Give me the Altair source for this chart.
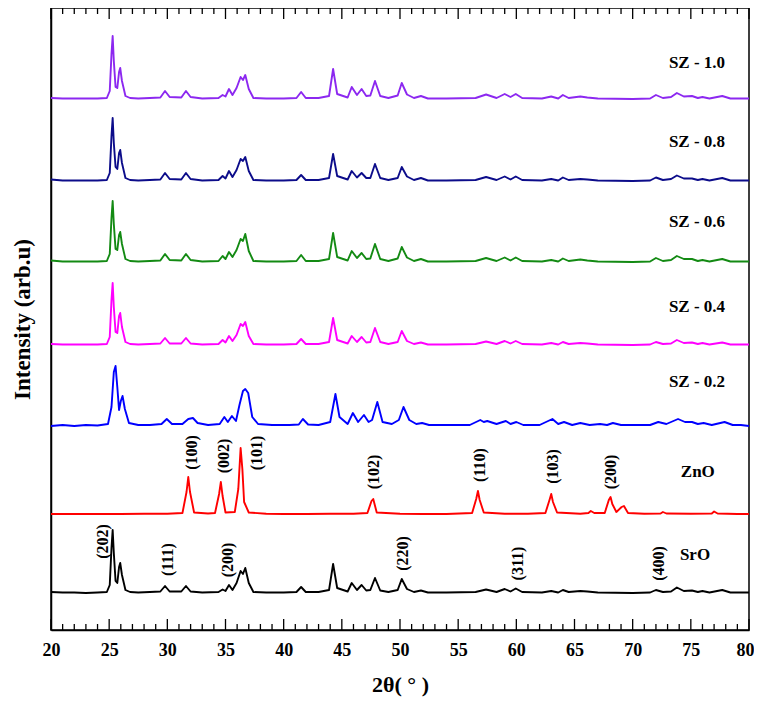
import altair as alt
import pandas as pd

# ---------------- data ----------------
NAMES = ["SrO", "ZnO", "SZ - 0.2", "SZ - 0.4", "SZ - 0.6", "SZ - 0.8", "SZ - 1.0"]
COLORS = ["#000000", "#ff0000", "#0000ff", "#ff00ff", "#138a13", "#0c0c8a", "#8c28f0"]
OFFSETS = [37, 116, 203, 285, 368, 449, 531]   # vertical stacking offsets (arb. units)

# common 2-theta grid for SrO and SZ-0.4 ... SZ-1.0
G = [20.0, 21.0, 22.0, 23.0, 24.0, 24.8, 25.05, 25.2, 25.3, 25.4, 25.55, 25.7, 25.85, 25.95, 26.1,
     26.4, 26.8, 27.5, 28.5, 29.4, 29.8, 30.2, 31.2, 31.6, 32.0, 33.0, 34.4, 34.75, 35.0, 35.3,
     35.6, 35.95, 36.3, 36.5, 36.7, 37.0, 37.4, 38.5, 40.0, 41.1, 41.5, 41.9, 43.0, 43.9, 44.25,
     44.6, 45.5, 45.85, 46.3, 46.7, 47.1, 47.45, 47.85, 48.3, 49.0, 49.8, 50.15, 50.6, 51.2, 51.8,
     52.4, 54.0, 56.5, 57.4, 58.3, 59.0, 59.5, 59.95, 60.5, 62.2, 63.0, 63.6, 64.0, 64.5, 65.5,
     66.1, 67.0, 70.0, 71.5, 72.0, 72.6, 73.3, 73.8, 74.4, 75.1, 75.6, 76.0, 76.6, 77.7, 78.4, 80.0]

SRO_Y = [1, 0.5, 0.5, 0, 0.5, 1, 8, 45, 63, 40, 12, 10, 26, 30, 18, 3, 1, 0.5, 1, 1.5,
         7, 1.5, 1.5, 7, 1.5, 0.5, 1, 3.5, 2, 8, 3, 10, 22, 19, 25, 10, 1, 0.5, 0.5, 1,
         6, 1, 1, 3, 29, 5, 1.5, 10, 3, 8, 2.5, 3, 15, 2.5, 1, 3, 14, 4, 1, 2.5,
         0.5, 0.5, 1, 3.5, 1, 4, 1.5, 4.5, 1, 0.5, 2, 0.5, 3, 1, 2, 1.5, 0.5, 0, 0.5, 3,
         1, 1.5, 5.5, 2, 2.5, 1, 2, 0.5, 3, 0.5, 0.5]
SZ04_Y = [1, 0.5, 0.5, 0.5, 0.5, 1, 8, 45, 62, 38, 13, 12, 29, 32, 18, 3, 1, 0.5, 1, 1.5,
          7, 1.5, 1.5, 7, 1.5, 0.5, 1, 5, 2.5, 9, 4, 10, 21, 19, 23, 9, 1, 0.5, 0.5, 1,
          6, 1, 1, 3, 27, 5, 1.5, 9, 3, 8, 2.5, 3, 17, 3, 1, 3, 14, 4, 1, 2.5,
          0.5, 0.5, 1, 3.5, 1, 4, 1.5, 4, 1, 0.5, 2, 0.5, 3, 1, 2, 1.5, 0.5, 0, 0.5, 3,
          1, 1.5, 5, 2, 2.5, 1, 2, 0.5, 2.5, 0.5, 0.5]
SZ06_Y = [1.5, 0.5, 0.5, 0.5, 0.5, 1, 8, 44, 61, 38, 13, 12, 27, 30, 18, 3, 1, 0.5, 1, 1.5,
          8, 2, 1.5, 8, 2, 0.5, 1, 6, 3, 10, 5, 12, 23, 21, 28, 11, 1, 0.5, 0.5, 1,
          7, 1, 1, 3, 29, 5, 1.5, 11, 4, 9, 3, 3.5, 18, 3, 1, 3.5, 15, 4.5, 1, 3,
          0.5, 0.5, 1, 4, 1, 4.5, 1.5, 4.5, 1, 0.5, 2, 0.5, 3.5, 1, 2.5, 1.5, 0.5, 0, 0.5, 4,
          1, 2, 6, 3, 3, 1, 2, 0.5, 3, 0.5, 0.5]
SZ08_Y = [1.5, 0.5, 0.5, 0.5, 0.5, 1, 8, 45, 63, 38, 14, 12, 28, 31, 18, 3, 1, 0.5, 1, 1.5,
          8, 2, 1.5, 8, 2, 0.5, 1, 5, 2.5, 10, 4, 11, 22, 20, 24, 10, 1, 0.5, 0.5, 1,
          6, 1, 1, 3, 27, 5, 1.5, 10, 3.5, 8, 3, 3, 17, 3, 1, 3, 14, 4.5, 1, 3,
          0.5, 0.5, 1, 4, 1, 4.5, 1.5, 4.5, 1, 0.5, 2, 0.5, 3.5, 1, 2, 1.5, 0.5, 0, 0.5, 3.5,
          1, 2, 5.5, 2.5, 2.5, 1, 2, 0.5, 3, 0.5, 0.5]
SZ10_Y = [1, 0.5, 0.5, 0.5, 0.5, 1, 8, 45, 63, 38, 12, 11, 27, 31, 18, 3, 1, 0.5, 1, 1.5,
          8, 2, 1.5, 8, 2, 0.5, 1, 4, 2.5, 10, 4, 11, 22, 19, 24, 10, 1, 0.5, 0.5, 1,
          7, 1, 1, 3, 30, 5, 1.5, 12, 4, 10, 3, 3.5, 18, 3, 1, 3.5, 16, 4.5, 1, 3,
          0.5, 0.5, 1, 4.5, 1, 5, 2, 5, 1, 0.5, 2.5, 0.5, 4, 1, 2.5, 1.5, 0.5, 0, 0.5, 4,
          1, 2, 6, 2.5, 3, 1, 2, 0.5, 3, 0.5, 0.5]

# ZnO pattern
ZNO_X = [20, 22, 24, 26, 28, 30, 31.3, 31.65, 31.8, 31.95, 32.3, 33.5, 34.1, 34.45, 34.6,
         34.75, 35.0, 35.8, 36.1, 36.3, 36.45, 36.6, 37.0, 38.5, 40, 42, 44, 46, 47.2, 47.55,
         47.7, 48.0, 50, 52, 54, 56.2, 56.55, 56.7, 56.85, 57.2, 59, 61, 62.5, 62.85, 63.0,
         63.15, 63.5, 65.5, 66.2, 66.4, 66.7, 67.6, 67.95, 68.1, 68.25, 68.6, 69.05, 69.25, 69.6, 71,
         72.4, 72.6, 72.9, 75, 76.8, 77.0, 77.3, 79, 80]
ZNO_Y = [0, 0, 0, 0, 0.3, 0.3, 1, 22, 37, 22, 1.5, 0.5, 1, 20, 32,
         18, 1.5, 2, 25, 66, 45, 12, 1.5, 0.3, 0, 0, 0.3, 0.3, 1, 13,
         15, 1.5, 0.3, 0, 0, 1, 15, 23, 14, 1.5, 0.3, 0.3, 1, 14, 20,
         12, 1.5, 0.3, 1, 3, 1, 1, 14, 17, 10, 2, 7, 8, 1, 0.3,
         0.5, 2, 0.5, 0.3, 0.5, 2.5, 0.5, 0, 0]

# SZ-0.2 pattern (broader peaks)
SZ02_X = [20, 21, 22, 23, 24, 24.9, 25.2, 25.4, 25.55, 25.7, 25.85, 26.0, 26.15, 26.35, 26.7,
          27.5, 28.5, 29.5, 29.95, 30.4, 31.3, 31.8, 32.2, 32.6, 33.5, 34.5, 34.9, 35.2, 35.55, 35.9,
          36.2, 36.5, 36.7, 36.95, 37.3, 37.8, 39.0, 40.5, 41.3, 41.65, 42.1, 43.0, 44.0, 44.45, 44.8,
          45.5, 45.95, 46.4, 46.9, 47.3, 47.6, 48.05, 48.5, 49.3, 49.9, 50.3, 50.8, 51.4, 51.9, 52.5,
          54.0, 56.0, 56.9, 57.2, 57.5, 58.3, 59.1, 59.5, 60.0, 60.6, 62.0, 63.1, 63.6, 64.1, 64.8,
          65.5, 66.3, 67.2, 67.8, 68.3, 69.0, 70.5, 71.5, 72.2, 72.9, 73.9, 74.5, 75.1, 75.6, 76.1,
          76.8, 77.9, 78.6, 79.3, 80.0]
SZ02_Y = [1, 2, 1, 2, 1.5, 3, 20, 55, 61, 40, 17, 26, 31, 18, 4,
          2, 2, 3, 8, 3, 3, 8, 9, 4, 2, 3, 10, 5, 11, 6,
          22, 36, 38, 34, 10, 3, 2, 2, 2.5, 8, 2.5, 2, 5, 33, 10,
          3, 14, 5, 12, 5, 7, 25, 5, 3, 7, 20, 7, 3, 4, 2,
          2, 2, 7, 5, 6, 3, 6, 3, 5, 2, 2, 8, 3, 5, 2,
          4, 2, 3, 2, 4, 2, 2, 2, 5, 3, 8, 5, 5, 3, 4,
          2, 5, 2, 2, 1]

SERIES_X = [G, ZNO_X, SZ02_X, G, G, G, G]
SERIES_Y = [SRO_Y, ZNO_Y, SZ02_Y, SZ04_Y, SZ06_Y, SZ08_Y, SZ10_Y]

# sample labels at the right
LABELS = ["SZ - 1.0", "SZ - 0.8", "SZ - 0.6", "SZ - 0.4", "SZ - 0.2", "ZnO", "SrO"]
LABEL_X = [75.53, 75.53, 75.53, 75.53, 75.53, 75.6, 75.36]
LABEL_Y = [567, 488, 408, 323, 248, 158, 75]

# Miller indices
HKL = ["(100)", "(002)", "(101)", "(102)", "(110)", "(103)", "(200)",
       "(202)", "(111)", "(200)", "(220)", "(311)", "(400)"]
HKL_X = [32.09, 34.87, 37.68, 47.77, 56.9, 63.13, 68.14,
         24.5, 30.03, 35.24, 50.28, 60.17, 72.27]
HKL_Y = [177.5, 174, 177, 158, 165, 163.5, 158,
         88.5, 70.5, 70, 76.5, 66.5, 66.5]

MAJOR = list(range(20, 81, 5))
MINOR = [v for v in range(21, 80) if v % 5 != 0]

# ---------------- build tables ----------------
rows = []
for name, off, xs, ys in zip(NAMES, OFFSETS, SERIES_X, SERIES_Y):
    assert len(xs) == len(ys), (name, len(xs), len(ys))
    for i, (x, y) in enumerate(zip(xs, ys)):
        rows.append({"series": name, "x": x, "y": off + y, "i": i})
df = pd.DataFrame(rows)

lab_df = pd.DataFrame({"t": LABELS, "x": LABEL_X, "y": LABEL_Y})
hkl_df = pd.DataFrame({"t": HKL, "x": HKL_X, "y": HKL_Y})
maj_df = pd.DataFrame({"t": MAJOR})
min_df = pd.DataFrame({"t": MINOR})

W, H = 698, 622
FONT = "Liberation Serif"
xsc = alt.Scale(domain=[20, 80], nice=False, zero=False)
ysc = alt.Scale(domain=[0, H], nice=False)

lines = alt.Chart(df).mark_line(strokeWidth=1.9, strokeJoin="round").encode(
    x=alt.X("x:Q", scale=xsc, axis=alt.Axis(
        values=MAJOR, format="d", ticks=False, grid=False, labelPadding=11,
        labelFlush=False, labelOverlap=False,
        labelAlign=alt.condition("datum.value >= 80", alt.value("right"), alt.value("center")),
        labelOffset=alt.condition("datum.value >= 80", alt.value(5), alt.value(0)),
        labelFontSize=18, labelFont=FONT, labelFontWeight="bold", labelColor="black",
        title="2θ( ° )", titleFontSize=22, titleFont=FONT, titleFontWeight="bold",
        titleColor="black", titlePadding=15, domainColor="black", domainWidth=1.5)),
    y=alt.Y("y:Q", scale=ysc, axis=alt.Axis(
        labels=False, ticks=False, grid=False, title="Intensity (arb.u)",
        titleFontSize=23, titleFont=FONT, titleFontWeight="bold", titleColor="black",
        titlePadding=17, domainColor="black", domainWidth=1.5)),
    color=alt.Color("series:N", scale=alt.Scale(domain=NAMES, range=COLORS), legend=None),
    order="i:Q",
)

def tick_layer(data, y0, y1):
    return alt.Chart(data).mark_rule(color="black", strokeWidth=1.3).encode(
        x=alt.X("t:Q", scale=xsc), y=alt.value(y0), y2=alt.value(y1))

ticks = [
    tick_layer(maj_df, H, H - 11), tick_layer(min_df, H, H - 6),
    tick_layer(maj_df, 0, 11), tick_layer(min_df, 0, 6),
]

labels = alt.Chart(lab_df).mark_text(
    font=FONT, fontWeight="bold", fontSize=17, align="center", baseline="middle", color="black"
).encode(x=alt.X("x:Q", scale=xsc), y=alt.Y("y:Q", scale=ysc), text="t:N")

hkl = alt.Chart(hkl_df).mark_text(
    font=FONT, fontWeight="bold", fontSize=16, align="center", baseline="middle",
    angle=270, color="black"
).encode(x=alt.X("x:Q", scale=xsc), y=alt.Y("y:Q", scale=ysc), text="t:N")

chart = alt.layer(lines, *ticks, labels, hkl).properties(
    width=W, height=H, autosize=alt.AutoSizeParams(type="none"),
    padding={"left": 43, "top": 0, "right": 5, "bottom": 72},
    background="white",
).configure_view(stroke="black", strokeWidth=1.5)

chart.save("out.html", embed_options={"renderer": "svg", "actions": False})
